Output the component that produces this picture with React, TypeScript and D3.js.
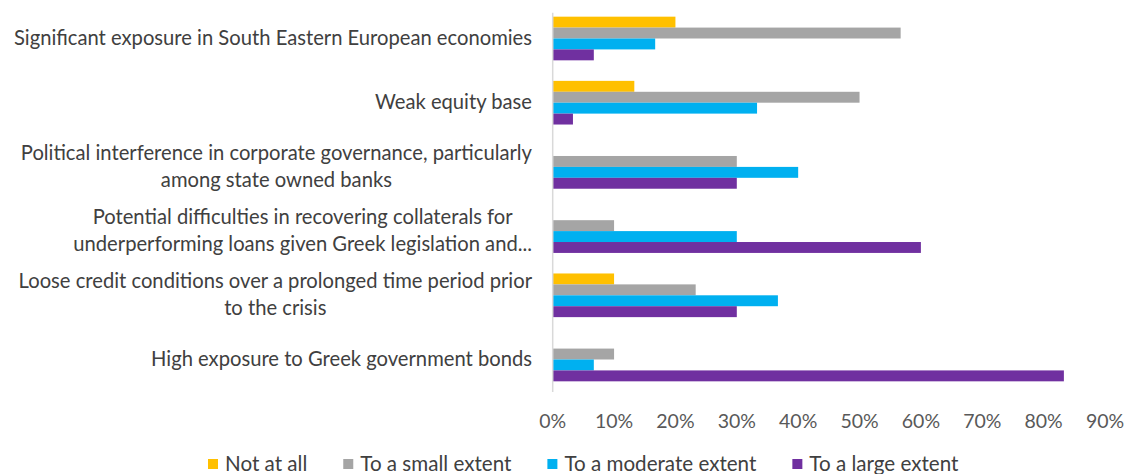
import React, { useEffect, useRef } from "react";
import * as d3 from "d3";

const categories: string[][] = [
  ["Significant exposure in South Eastern European economies"],
  ["Weak equity base"],
  ["Political interference in corporate governance, particularly", "among state owned banks"],
  ["Potential difficulties in recovering collaterals for", "underperforming loans given Greek legislation and..."],
  ["Loose credit conditions over a prolonged time period prior", "to the crisis"],
  ["High exposure to Greek government bonds"],
];

const seriesNames = ["Not at all", "To a small extent", "To a moderate extent", "To a large extent"];
const notAtAll = [20, 13.3, 0, 0, 10, 0];
const smallExtent = [56.7, 50, 30, 10, 23.3, 10];
const moderateExtent = [16.7, 33.3, 40, 30, 36.7, 6.7];
const largeExtent = [6.7, 3.3, 30, 60, 30, 83.3];
const xTicks = [0, 10, 20, 30, 40, 50, 60, 70, 80, 90];

const colors = ["#FFC000", "#A5A5A5", "#00B0F0", "#7030A0"];
const FONT = "Lato, 'Open Sans', sans-serif";
const LABEL_SIZE = 20.2;

export default function App() {
  const ref = useRef<SVGSVGElement>(null);

  useEffect(() => {
    const svg = d3.select(ref.current);
    svg.selectAll("*").remove();
    const values = [notAtAll, smallExtent, moderateExtent, largeExtent];

    const x = d3.scaleLinear().domain([0, 90]).range([552.7, 1105]);
    const y = d3
      .scaleBand<number>()
      .domain(d3.range(categories.length))
      .range([6.4, 391.6])
      .padding(0);
    const step = y.bandwidth();
    const inner = d3
      .scaleBand<number>()
      .domain(d3.range(seriesNames.length))
      .range([step * 0.16, step * 0.84])
      .padding(0);

    // bars
    const g = svg.append("g");
    values.forEach((vals, s) => {
      g.selectAll(null)
        .data(vals.map((v, i) => ({ v, i })).filter((d) => d.v > 0))
        .enter()
        .append("rect")
        .attr("x", x(0))
        .attr("y", (d) => (y(d.i) as number) + (inner(s) as number))
        .attr("width", (d) => x(d.v) - x(0))
        .attr("height", inner.bandwidth())
        .attr("fill", colors[s]);
    });

    // axis line
    svg
      .append("line")
      .attr("x1", x(0))
      .attr("x2", x(0))
      .attr("y1", 12.7)
      .attr("y2", 392)
      .attr("stroke", "#D9D9D9")
      .attr("stroke-width", 1.5);

    // category labels
    const labelRight = 532;
    const lineH = 27;
    categories.forEach((lines, i) => {
      const cy = (y(i) as number) + step / 2 - 1.5;
      const tg = svg.append("g");
      const texts = lines.map((ln, k) =>
        tg
          .append("text")
          .text(ln)
          .attr("font-family", FONT)
          .attr("font-size", LABEL_SIZE)
          .attr("fill", "#404040")
          .attr("text-anchor", "middle")
          .attr("dominant-baseline", "central")
          .attr("y", cy + (k - (lines.length - 1) / 2) * lineH)
      );
      const maxW = d3.max(texts, (t) => (t.node() as SVGTextElement).getComputedTextLength()) || 0;
      texts.forEach((t) => t.attr("x", labelRight - maxW / 2));
    });

    // x tick labels
    svg
      .append("g")
      .selectAll("text")
      .data(xTicks)
      .enter()
      .append("text")
      .attr("x", (d) => x(d))
      .attr("y", 420)
      .attr("text-anchor", "middle")
      .attr("dominant-baseline", "central")
      .attr("font-family", FONT)
      .attr("font-size", 19.5)
      .attr("fill", "#595959")
      .text((d) => `${d}%`);

    // legend
    const lg = svg.append("g");
    let lx = 208;
    seriesNames.forEach((name, s) => {
      lg.append("rect")
        .attr("x", lx)
        .attr("y", 459)
        .attr("width", 10)
        .attr("height", 10)
        .attr("fill", colors[s]);
      const t = lg
        .append("text")
        .attr("x", lx + 17)
        .attr("y", 463)
        .attr("dominant-baseline", "central")
        .attr("font-family", FONT)
        .attr("font-size", 20.6)
        .attr("fill", "#404040")
        .text(name);
      lx += 17 + (t.node() as SVGTextElement).getComputedTextLength() + 36;
    });
  }, []);

  return (
    <svg
      ref={ref}
      width={1124}
      height={474}
      style={{ position: "absolute", left: 0, top: 0, background: "#fff" }}
    />
  );
}
